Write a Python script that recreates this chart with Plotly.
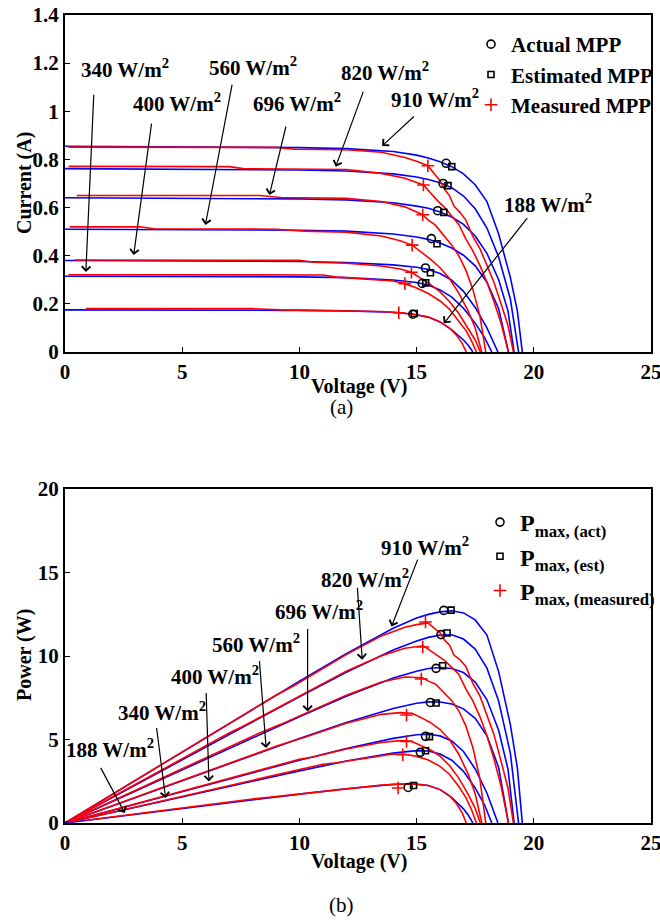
import plotly.graph_objects as go

# ---------------- data ----------------
irr_labels = ["910", "820", "696", "560", "400", "340", "188"]

# model (blue) I-V curves
b910_v = [0, 5, 10, 12, 14, 15, 15.5, 16, 16.5, 17, 17.5, 18, 18.5, 19, 19.3, 19.51]
b910_i = [0.855, 0.853, 0.849, 0.845, 0.833, 0.818, 0.806, 0.790, 0.770, 0.740, 0.695, 0.625, 0.49, 0.31, 0.17, 0]
b820_v = [0, 5, 10, 12, 14, 15, 15.5, 16, 16.5, 17, 17.5, 18, 18.5, 19, 19.35]
b820_i = [0.762, 0.760, 0.756, 0.752, 0.740, 0.727, 0.717, 0.703, 0.683, 0.648, 0.595, 0.515, 0.395, 0.22, 0]
b696_v = [0, 5, 10, 12, 14, 15, 15.5, 16, 16.5, 17, 17.5, 18, 18.5, 18.9, 19.16]
b696_i = [0.641, 0.640, 0.636, 0.632, 0.620, 0.606, 0.597, 0.582, 0.561, 0.530, 0.482, 0.41, 0.30, 0.17, 0]
b560_v = [0, 5, 10, 12, 14, 15, 15.5, 16, 16.5, 17, 17.5, 18, 18.5, 18.92]
b560_i = [0.510, 0.509, 0.506, 0.502, 0.490, 0.478, 0.468, 0.453, 0.432, 0.402, 0.358, 0.29, 0.18, 0]
b400_v = [0, 5, 10, 12, 14, 15, 15.5, 16, 16.5, 17, 17.5, 18, 18.47]
b400_i = [0.380, 0.379, 0.376, 0.372, 0.362, 0.352, 0.343, 0.326, 0.298, 0.252, 0.185, 0.10, 0]
b340_v = [0, 5, 10, 12, 14, 15, 15.5, 16, 16.5, 17, 17.5, 17.9, 18.21]
b340_i = [0.315, 0.314, 0.312, 0.309, 0.299, 0.289, 0.278, 0.258, 0.228, 0.182, 0.12, 0.06, 0]
b188_v = [0, 5, 10, 12, 14, 14.8, 15.5, 16, 16.5, 17, 17.2, 17.4]
b188_i = [0.175, 0.175, 0.173, 0.171, 0.165, 0.158, 0.145, 0.125, 0.092, 0.05, 0.028, 0]

# measured (red) I-V curves
r910_v = [0.15, 9.0, 9.8, 12, 13.5, 14.5, 15.0, 15.48, 15.8, 16.0, 16.2, 16.4, 16.6, 16.85, 17.1, 17.4, 17.7, 18.0, 18.3, 18.6, 18.9, 19.13]
r910_i = [0.851, 0.850, 0.842, 0.840, 0.830, 0.808, 0.792, 0.774, 0.735, 0.712, 0.675, 0.650, 0.605, 0.580, 0.548, 0.48, 0.43, 0.36, 0.29, 0.20, 0.11, 0]
r820_v = [0.15, 7.0, 7.6, 12, 13.5, 14.5, 15.29, 15.6, 15.9, 16.2, 16.5, 16.8, 17.1, 17.4, 17.7, 18.0, 18.3, 18.6, 18.92]
r820_i = [0.771, 0.770, 0.762, 0.758, 0.742, 0.722, 0.694, 0.66, 0.628, 0.60, 0.565, 0.53, 0.47, 0.42, 0.36, 0.29, 0.21, 0.12, 0]
r696_v = [0.5, 8.3, 9.2, 12, 13.5, 14.5, 15.26, 15.5, 15.8, 16.1, 16.3, 16.5, 16.8, 17.1, 17.4, 17.7, 17.95]
r696_i = [0.650, 0.650, 0.642, 0.638, 0.625, 0.603, 0.570, 0.548, 0.527, 0.49, 0.47, 0.444, 0.40, 0.34, 0.26, 0.15, 0]
r560_v = [0.2, 3.2, 3.8, 9.0, 10.2, 12, 13.5, 14.3, 14.81, 15.2, 15.6, 16.0, 16.4, 16.8, 17.2, 17.5, 17.78]
r560_i = [0.520, 0.520, 0.512, 0.510, 0.502, 0.498, 0.482, 0.462, 0.444, 0.415, 0.385, 0.35, 0.305, 0.245, 0.17, 0.10, 0]
r400_v = [0.4, 10.0, 10.6, 12, 13.5, 14.3, 14.78, 15.2, 15.6, 16.0, 16.4, 16.8, 17.2, 17.5, 17.72]
r400_i = [0.382, 0.381, 0.373, 0.369, 0.357, 0.345, 0.331, 0.305, 0.28, 0.25, 0.21, 0.16, 0.10, 0.05, 0]
r340_v = [0.15, 11.0, 11.6, 13, 14.0, 14.5, 15.0, 15.5, 16.0, 16.4, 16.8, 17.1, 17.35, 17.55]
r340_i = [0.321, 0.320, 0.311, 0.303, 0.295, 0.284, 0.266, 0.243, 0.212, 0.178, 0.13, 0.09, 0.045, 0]
r188_v = [0.9, 8.0, 9.2, 12, 13.5, 14.24, 15.0, 15.5, 16.0, 16.4, 16.7, 16.95, 17.12]
r188_i = [0.180, 0.180, 0.175, 0.172, 0.168, 0.163, 0.155, 0.145, 0.125, 0.10, 0.07, 0.035, 0]

# MPP markers, I-V plot (order: 910, 820, 696, 560, 400, 340, 188)
act_v = [16.26, 16.13, 15.90, 15.63, 15.38, 15.24, 14.84]
act_i = [0.784, 0.700, 0.587, 0.471, 0.349, 0.285, 0.157]
est_v = [16.50, 16.34, 16.16, 15.87, 15.59, 15.39, 14.90]
est_i = [0.770, 0.691, 0.580, 0.450, 0.329, 0.287, 0.160]
meas_v = [15.48, 15.29, 15.26, 14.81, 14.78, 14.50, 14.24]
meas_i = [0.774, 0.694, 0.570, 0.444, 0.331, 0.284, 0.163]

# MPP markers, P-V plot
pact_v = [16.16, 16.04, 15.83, 15.59, 15.38, 15.16, 14.64]
pact_p = [12.73, 11.28, 9.26, 7.22, 5.19, 4.23, 2.13]
pest_v = [16.47, 16.30, 16.11, 15.83, 15.55, 15.38, 14.87]
pest_p = [12.75, 11.38, 9.42, 7.19, 5.17, 4.33, 2.25]
pmeas_v = [15.38, 15.26, 15.20, 14.57, 14.57, 14.41, 14.21]
pmeas_p = [12.04, 10.54, 8.62, 6.47, 4.89, 4.09, 2.10]

blue_curves = [(b910_v, b910_i), (b820_v, b820_i), (b696_v, b696_i), (b560_v, b560_i),
               (b400_v, b400_i), (b340_v, b340_i), (b188_v, b188_i)]
red_curves = [(r910_v, r910_i), (r820_v, r820_i), (r696_v, r696_i), (r560_v, r560_i),
              (r400_v, r400_i), (r340_v, r340_i), (r188_v, r188_i)]

# ---------------- figure ----------------
FONT = "Liberation Serif"
BLUE = "#0000ff"
RED = "#ff0000"
fig = go.Figure()

for panel, (xa, ya) in enumerate([("x", "y"), ("x2", "y2")]):
    for v, i in blue_curves:
        y = i if panel == 0 else [a * b for a, b in zip(v, i)]
        fig.add_trace(go.Scatter(x=v, y=y, mode="lines", line=dict(color=BLUE, width=1.6),
                                 xaxis=xa, yaxis=ya, showlegend=False, hoverinfo="skip"))
    for v, i in red_curves:
        y = i if panel == 0 else [a * b for a, b in zip(v, i)]
        fig.add_trace(go.Scatter(x=v, y=y, mode="lines", line=dict(color=RED, width=1.6),
                                 xaxis=xa, yaxis=ya, showlegend=False, hoverinfo="skip"))

# markers top
fig.add_trace(go.Scatter(x=act_v, y=act_i, mode="markers", name="Actual MPP",
                         marker=dict(symbol="circle-open", size=8, color="black", line=dict(width=1.6)),
                         xaxis="x", yaxis="y", legend="legend"))
fig.add_trace(go.Scatter(x=est_v, y=est_i, mode="markers", name="Estimated MPP",
                         marker=dict(symbol="square-open", size=6, color="black", line=dict(width=1.6)),
                         xaxis="x", yaxis="y", legend="legend"))
fig.add_trace(go.Scatter(x=meas_v, y=meas_i, mode="markers", name="Measured MPP",
                         marker=dict(symbol="cross-thin-open", size=9, color=RED, line=dict(width=1.6, color=RED)),
                         xaxis="x", yaxis="y", legend="legend"))
# markers bottom
fig.add_trace(go.Scatter(x=pact_v, y=pact_p, mode="markers", name="P<sub>max, (act)</sub>",
                         marker=dict(symbol="circle-open", size=8, color="black", line=dict(width=1.6)),
                         xaxis="x2", yaxis="y2", legend="legend2"))
fig.add_trace(go.Scatter(x=pest_v, y=pest_p, mode="markers", name="P<sub>max, (est)</sub>",
                         marker=dict(symbol="square-open", size=6, color="black", line=dict(width=1.6)),
                         xaxis="x2", yaxis="y2", legend="legend2"))
fig.add_trace(go.Scatter(x=pmeas_v, y=pmeas_p, mode="markers", name="P<sub>max, (measured)</sub>",
                         marker=dict(symbol="cross-thin-open", size=9, color=RED, line=dict(width=1.6, color=RED)),
                         xaxis="x2", yaxis="y2", legend="legend2"))

tickfont = dict(family=FONT, size=21, color="black", weight="bold")
axis_common = dict(showline=True, linecolor="black", linewidth=2, mirror=True, ticks="inside",
                   ticklen=5, tickwidth=1, tickcolor="black", showgrid=False, zeroline=False,
                   tickfont=tickfont, automargin=False, ticklabeloverflow="allow")

X0, X1 = 65 / 660, 651 / 660
fig.update_layout(
    width=660, height=920, margin=dict(l=0, r=0, t=0, b=0, autoexpand=False),
    paper_bgcolor="white", plot_bgcolor="white",
    xaxis=dict(domain=[X0, X1], range=[0, 25], dtick=5, anchor="y", **axis_common),
    yaxis=dict(domain=[1 - 352 / 920, 1 - 15 / 920], range=[0, 1.4], dtick=0.2, anchor="x",
               **axis_common),
    xaxis2=dict(domain=[X0, X1], range=[0, 25], dtick=5, anchor="y2", **axis_common),
    yaxis2=dict(domain=[1 - 823 / 920, 1 - 489 / 920], range=[0, 20], dtick=5, anchor="x2",
                **axis_common),
    legend=dict(x=471 / 660, y=1 - 24 / 920, xanchor="left", yanchor="top",
                font=dict(family=FONT, size=21, color="black", weight="bold"),
                bgcolor="rgba(0,0,0,0)", tracegroupgap=0),
    legend2=dict(x=480 / 660, y=1 - 500 / 920, xanchor="left", yanchor="top",
                 font=dict(family=FONT, size=24, color="black", weight="bold"),
                 bgcolor="rgba(0,0,0,0)", tracegroupgap=0),
)

ann_font = dict(family=FONT, size=21, color="black", weight="bold")
# (text_center_x_px, text_center_y_px, tail_v, tail_val, head_v, head_val)
top_ann = [
    ("340", 125, 69, 1.23, 1.075, 0.89, 0.332),
    ("400", 177, 102, 3.70, 0.955, 2.93, 0.403),
    ("560", 253, 66, 7.14, 1.117, 5.99, 0.528),
    ("696", 297, 102, 9.44, 0.943, 8.72, 0.652),
    ("820", 385, 71, 12.75, 1.088, 11.55, 0.770),
    ("910", 435, 99, 14.95, 0.984, 13.53, 0.856),
    ("188", 548, 203, 19.77, 0.562, 16.16, 0.119),
]
bot_ann = [
    ("910", 425, 546, 15.07, 15.86, 13.93, 11.77),
    ("820", 365, 578, 12.47, 14.17, 12.68, 9.78),
    ("696", 319, 610, 10.35, 11.70, 10.35, 6.68),
    ("560", 256, 643, 8.29, 9.78, 8.58, 4.49),
    ("400", 215, 675, 6.02, 7.88, 6.14, 2.49),
    ("340", 162, 711, 3.90, 5.78, 4.29, 1.50),
    ("188", 110, 748, 1.49, 3.39, 2.55, 0.60),
]
anns = []
for rows, xr, yr in [(top_ann, "x", "y"), (bot_ann, "x2", "y2")]:
    for lab, tx, ty, av, aval, hv, hval in rows:
        anns.append(dict(text=f"{lab} W/m<sup>2</sup>", x=tx / 660, y=1 - ty / 920, xref="paper",
                         yref="paper", showarrow=False, font=ann_font, xanchor="center",
                         yanchor="middle"))
        anns.append(dict(text="", x=hv, y=hval, ax=av, ay=aval, xref=xr, yref=yr, axref=xr,
                         ayref=yr, showarrow=True, arrowhead=4, arrowsize=1.4, arrowwidth=1.2,
                         arrowcolor="black"))

# axis titles and panel labels: (text, x_px, y_px, angle, bold, size)
labels = [
    ("Voltage (V)", 359, 386, 0, True, 20),
    ("Current (A)", 24, 183, -90, True, 20),
    ("Voltage (V)", 359, 861, 0, True, 20),
    ("Power (W)", 24, 655, -90, True, 20),
    ("(a)", 341, 407, 0, False, 21),
    ("(b)", 341, 905, 0, False, 21),
]
for txt, px, py, ang, bold, sz in labels:
    anns.append(dict(text=txt, x=px / 660, y=1 - py / 920, xref="paper", yref="paper",
                     showarrow=False, textangle=ang, xanchor="center", yanchor="middle",
                     font=dict(family=FONT, size=sz, color="black",
                               weight="bold" if bold else "normal")))
fig.update_layout(annotations=anns)

fig.write_html("out.html")
